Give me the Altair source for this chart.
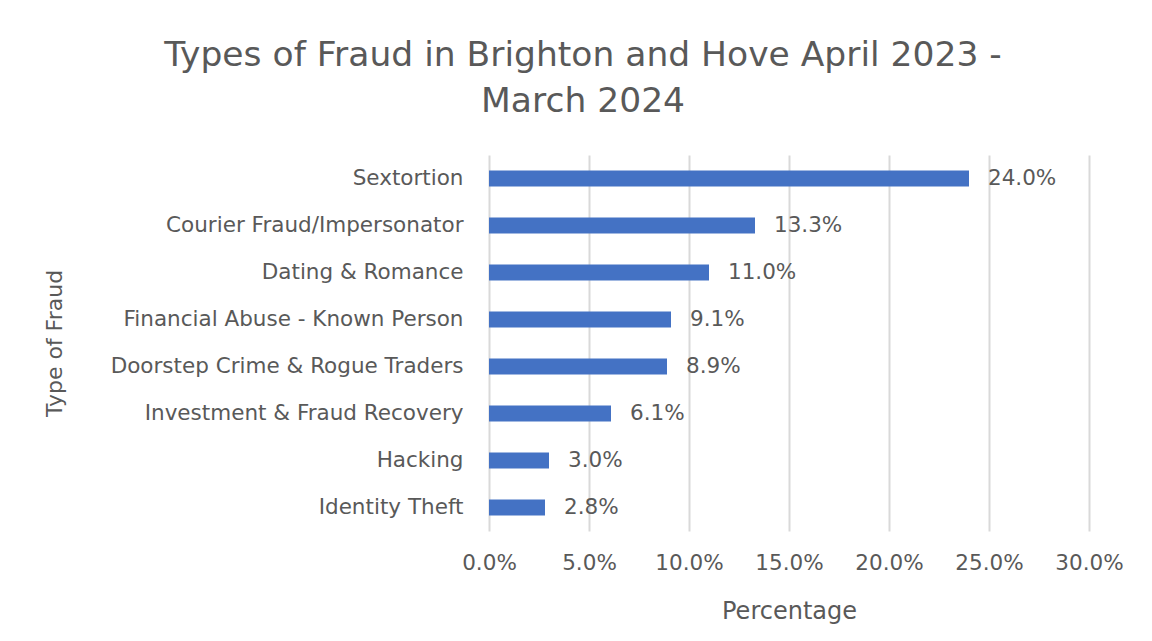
import altair as alt
import pandas as pd

categories = [
    "Sextortion",
    "Courier Fraud/Impersonator",
    "Dating & Romance",
    "Financial Abuse - Known Person",
    "Doorstep Crime & Rogue Traders",
    "Investment & Fraud Recovery",
    "Hacking",
    "Identity Theft",
]
values = [24.0, 13.3, 11.0, 9.1, 8.9, 6.1, 3.0, 2.8]
tick_values = [0, 5, 10, 15, 20, 25, 30]

df = pd.DataFrame({"type": categories, "pct": [v / 100 for v in values]})

FONT = "DejaVu Sans"
GREY = "#595959"

base = alt.Chart(df).encode(
    y=alt.Y(
        "type:N",
        sort=categories,
        title="Type of Fraud",
        scale=alt.Scale(paddingInner=0.66, paddingOuter=0.33),
        axis=alt.Axis(
            labelFontSize=21.5,
            labelColor=GREY,
            labelFont=FONT,
            labelPadding=26,
            labelLimit=600,
            ticks=False,
            domain=False,
            grid=False,
            titleFontSize=22,
            titleFont=FONT,
            titleColor=GREY,
            titleFontWeight="normal",
            titleX=-435,
            titleY=188,
            titleBaseline="middle",
            titleAlign="center",
            titleAngle=270,
        ),
    ),
)

bars = base.mark_bar(color="#4472C4").encode(
    x=alt.X(
        "pct:Q",
        title="Percentage",
        scale=alt.Scale(domain=[0, 0.30]),
        axis=alt.Axis(
            values=[t / 100 for t in tick_values],
            format=".1%",
            labelFontSize=21.5,
            labelColor=GREY,
            labelFont=FONT,
            labelPadding=21,
            labelFlush=False,
            ticks=False,
            domain=False,
            grid=True,
            gridColor="#d9d9d9",
            gridWidth=2,
            titleFontSize=24,
            titleFont=FONT,
            titleColor=GREY,
            titleFontWeight="normal",
            titlePadding=26,
        ),
    ),
)

labels = base.mark_text(
    align="left", baseline="middle", dx=19, fontSize=21.5, font=FONT, color=GREY
).encode(
    x="pct:Q",
    text=alt.Text("pct:Q", format=".1%"),
)

chart = (
    alt.layer(bars, labels)
    .properties(
        width=600,
        height=376,
        background="white",
        title=alt.TitleParams(
            text=["Types of Fraud in Brighton and Hove April 2023 -", "March 2024"],
            fontSize=34.5,
            font=FONT,
            color=GREY,
            fontWeight="normal",
            lineHeight=46,
            anchor="middle",
            frame="bounds",
            offset=36,
        ),
        padding={"left": 35, "top": 29, "right": 10, "bottom": 5},
    )
    .configure_view(stroke=None, strokeWidth=0)
)

chart.save("out.html", embed_options={"renderer": "svg", "actions": False})
